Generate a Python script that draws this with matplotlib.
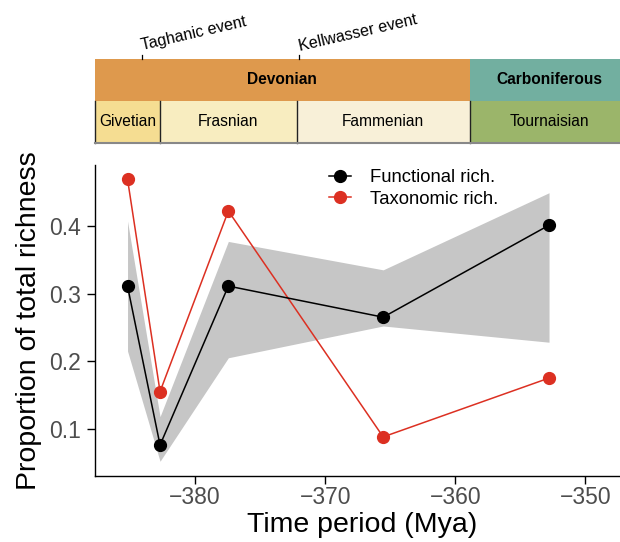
import numpy as np
import matplotlib.pyplot as plt

plt.rcParams['font.family'] = ['Liberation Sans', 'DejaVu Sans']

# data
time = [-385.2, -382.7, -377.45, -365.55, -352.8]
functional = [0.311, 0.076, 0.311, 0.265, 0.401]
func_low = [0.215, 0.052, 0.205, 0.252, 0.228]
func_high = [0.407, 0.118, 0.377, 0.335, 0.449]
taxonomic = [0.469, 0.155, 0.422, 0.088, 0.175]

periods = ["Devonian", "Carboniferous"]
period_bounds = [(-393.3, -358.9), (-358.9, -346.7)]
period_colors = ["#DE994D", "#72AFA0"]
stages = ["Givetian", "Frasnian", "Fammenian", "Tournaisian"]
stage_bounds = [(-387.7, -382.7), (-382.7, -372.2), (-372.2, -358.9), (-358.9, -346.7)]
stage_colors = ["#F5DD92", "#F8EDC0", "#F8F0D8", "#9BB56A"]
events = ["Taghanic event", "Kellwasser event"]
event_times = [-384.1, -372.0]

xlim = (-387.7, -346.7)
W, H = 620, 542

fig = plt.figure(figsize=(6.2, 5.42), dpi=100)

# main panel (extends past the right edge like the original crop)
x0, x1 = 95, 628.4
ax = fig.add_axes([x0 / W, (H - 476) / H, (x1 - x0) / W, (476 - 165) / H])
ax.fill_between(time, func_low, func_high, color="#C6C6C6", lw=0, zorder=1)
ax.plot(time, taxonomic, color="#DC3022", lw=1.1, marker="o", ms=8.5,
        label="Taxonomic rich.", zorder=3)
ax.plot(time, functional, color="black", lw=1.1, marker="o", ms=8.5,
        label="Functional rich.", zorder=4)
ax.set_xlim(*xlim)
ax.set_ylim(0.0302, 0.49)
ax.set_xticks([-380, -370, -360, -350])
ax.set_yticks([0.1, 0.2, 0.3, 0.4])
ax.set_xticklabels(["\u2212380", "\u2212370", "\u2212360", "\u2212350"])
ax.set_yticklabels(["0.1", "0.2", "0.3", "0.4"])
ax.tick_params(labelsize=16.5, labelcolor="#4D4D4D", length=5.5, width=1.0, color="black")
ax.tick_params(axis="y", pad=4.5)
ax.tick_params(axis="x", pad=2)
for s in ["top", "right"]:
    ax.spines[s].set_visible(False)
for s in ["left", "bottom"]:
    ax.spines[s].set_linewidth(1.0)
ax.set_xlabel("Time period (Mya)", fontsize=20.5, labelpad=2)
ax.set_ylabel("Proportion of total richness", fontsize=20.5, labelpad=5)

h, l = ax.get_legend_handles_labels()
ax.legend(h[::-1], l[::-1], loc="upper left", bbox_to_anchor=(320 / W, (H - 160) / H),
          bbox_transform=fig.transFigure, frameon=False, fontsize=13.3,
          handlelength=1.2, handletextpad=1.0, labelspacing=0.25, borderpad=0)

# geological timescale bar
bax = fig.add_axes([x0 / W, (H - 143) / H, (x1 - x0) / W, (143 - 58.5) / H])
bax.set_xlim(*xlim)
bax.set_ylim(0, 2)
bax.axis("off")
for name, (a, b), c in zip(periods, period_bounds, period_colors):
    bax.axvspan(a, b, ymin=0.5, ymax=1, color=c, lw=0)
    mid = (max(a, xlim[0]) + min(b, xlim[1])) / 2
    bax.text(mid, 1.5, name, ha="center", va="center", fontsize=11.2, fontweight="bold")
for name, (a, b), c in zip(stages, stage_bounds, stage_colors):
    bax.axvspan(a, b, ymin=0, ymax=0.5, facecolor=c, lw=0)
    bax.text((a + b) / 2, 0.5, name, ha="center", va="center", fontsize=11.2)
for a, b in stage_bounds:
    bax.plot([a, a], [0, 1], color="#222222", lw=1.0, clip_on=False)
bax.plot(xlim, [0, 0], color="#888888", lw=1.5, clip_on=False)

for name, t in zip(events, event_times):
    bax.plot([t, t], [2, 2.08], color="black", lw=0.9, clip_on=False)
    bax.text(t + 0.1, 2.12, name, ha="left", va="bottom", rotation=13,
             rotation_mode="anchor", fontsize=11.5)

fig.savefig("out.png", dpi=100)
